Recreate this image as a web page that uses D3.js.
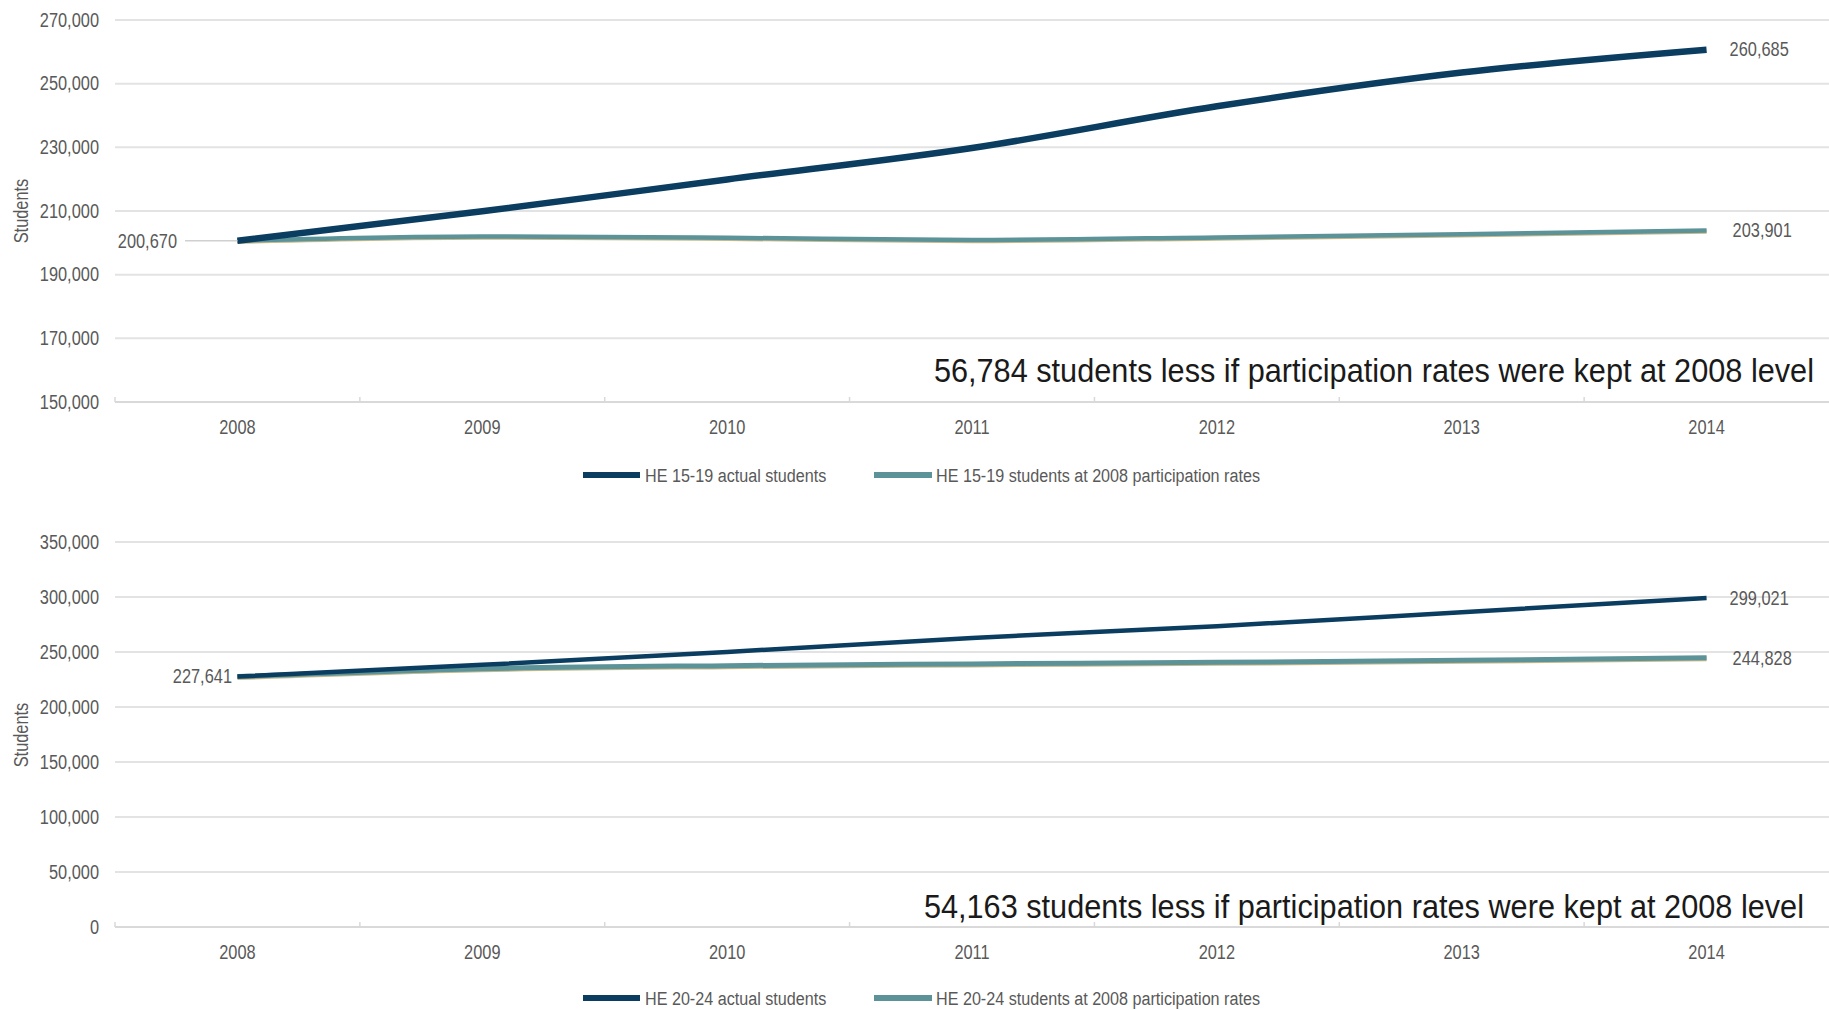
<!DOCTYPE html>
<html lang="en">
<head>
    <meta charset="UTF-8">
    <title>HE students vs 2008 participation rates</title>
    <script src="https://d3js.org/d3.v7.min.js"></script>
    <style>
        body { margin: 0; background: #fff; }
        svg text { font-family: "Liberation Sans", Arial, sans-serif; }
        .tick-label { font-size: 19.5px; fill: #595959; }
        .legend-label { font-size: 19px; fill: #595959; }
        .note { font-size: 33px; fill: #1a1a1a; }
    </style>
</head>
<body>
    <svg id="chart" width="1829" height="1010"></svg>

    <script>
        const years = ["2008", "2009", "2010", "2011", "2012", "2013", "2014"];

        // HE 15-19
        const actual1519 = [200670, 209900, 219900, 229800, 242900, 253500, 260685];
        const base1519 = [200670, 202000, 201600, 200900, 201700, 202700, 203901];
        const ticks1519 = [150000, 170000, 190000, 210000, 230000, 250000, 270000];
        const gap1519 = 56784;

        // HE 20-24
        const actual2024 = [227641, 238300, 250000, 262800, 273400, 286200, 299021];
        const base2024 = [227641, 234800, 237600, 239200, 240600, 242400, 244828];
        const ticks2024 = [0, 50000, 100000, 150000, 200000, 250000, 300000, 350000];
        const gap2024 = 54163;

        const colActual = "#0b3d60";
        const colBase = "#5b9399";
        const colEdge = "#c9b98a";
        const fmt = d3.format(",");

        // horizontal squeeze per text class, to get the narrow look of the original
        const squeeze = { "tick-label": 0.84, "legend-label": 0.85, "note": 0.93 };

        const svg = d3.select("#chart");

        const x = d3.scalePoint().domain(years).range([115, 1829]).padding(0.5);

        function panel(cfg) {
            const g = svg.append("g");
            const y = d3.scaleLinear().domain(cfg.domain).range(cfg.range);

            // gridlines
            g.selectAll(".grid").data(cfg.ticks.slice(1)).enter().append("line")
                .attr("x1", 115).attr("x2", 1829)
                .attr("y1", d => y(d)).attr("y2", d => y(d))
                .attr("stroke", "#e3e3e3").attr("stroke-width", 2);

            // y tick labels
            g.selectAll(".ylab").data(cfg.ticks).enter().append("text")
                .attr("class", "tick-label")
                .attr("x", 99).attr("y", d => y(d)).attr("dy", "0.35em")
                .attr("text-anchor", "end")
                .text(d => fmt(d));

            // x axis line + category ticks
            const y0 = y(cfg.domain[0]);
            g.append("line").attr("x1", 115).attr("x2", 1829).attr("y1", y0).attr("y2", y0)
                .attr("stroke", "#d9d9d9").attr("stroke-width", 2);
            const step = x.step();
            g.selectAll(".xt").data(d3.range(years.length)).enter().append("line")
                .attr("x1", i => 115 + i * step).attr("x2", i => 115 + i * step)
                .attr("y1", y0 - 5).attr("y2", y0)
                .attr("stroke", "#d9d9d9").attr("stroke-width", 1.5);

            g.selectAll(".xlab").data(years).enter().append("text")
                .attr("class", "tick-label")
                .attr("x", d => x(d)).attr("y", y0 + 25).attr("dy", "0.35em")
                .attr("text-anchor", "middle")
                .text(d => d);

            // y axis title
            g.append("text").attr("class", "tick-label")
                .attr("transform", `translate(21,${cfg.titleY}) rotate(-90)`)
                .attr("text-anchor", "middle").attr("dy", "0.35em")
                .text("Students");

            const line = d3.line().x((d, i) => x(years[i])).y(d => y(d)).curve(d3.curveMonotoneX);

            g.append("path").datum(cfg.base).attr("d", line)
                .attr("fill", "none").attr("stroke", colEdge).attr("stroke-width", cfg.baseW)
                .attr("transform", "translate(0,1)");
            g.append("path").datum(cfg.base).attr("d", line)
                .attr("fill", "none").attr("stroke", colBase).attr("stroke-width", cfg.baseW);
            g.append("path").datum(cfg.actual).attr("d", line)
                .attr("fill", "none").attr("stroke", colActual).attr("stroke-width", cfg.actW);

            // data labels
            const first = cfg.actual[0];
            if (cfg.leader) {
                g.append("line").attr("x1", 185).attr("x2", x(years[0]))
                    .attr("y1", y(first)).attr("y2", y(first))
                    .attr("stroke", "#d0d0d0").attr("stroke-width", 1.5);
            }
            g.append("text").attr("class", "tick-label")
                .attr("x", cfg.leftLabelX).attr("y", y(first)).attr("dy", "0.35em")
                .attr("text-anchor", "end").text(fmt(first));

            const last = years.length - 1;
            g.append("text").attr("class", "tick-label")
                .attr("x", x(years[last]) + 23).attr("y", y(cfg.actual[last])).attr("dy", "0.35em")
                .text(fmt(cfg.actual[last]));
            g.append("text").attr("class", "tick-label")
                .attr("x", x(years[last]) + 26).attr("y", y(cfg.base[last])).attr("dy", "0.35em")
                .text(fmt(cfg.base[last]));

            // annotation
            g.append("text").attr("class", "note")
                .attr("x", cfg.noteX).attr("y", cfg.noteY).attr("dy", "0.35em")
                .attr("text-anchor", "end")
                .text(fmt(cfg.gap) + " students less if participation rates were kept at 2008 level");

            // legend
            const lg = g.append("g").attr("transform", `translate(0,${cfg.legendY})`);
            lg.append("line").attr("x1", 583).attr("x2", 640).attr("y1", 0).attr("y2", 0)
                .attr("stroke", colActual).attr("stroke-width", 6);
            lg.append("text").attr("class", "legend-label").attr("x", 645).attr("dy", "0.35em")
                .text(cfg.names[0]);
            lg.append("line").attr("x1", 874).attr("x2", 932).attr("y1", 0).attr("y2", 0)
                .attr("stroke", colBase).attr("stroke-width", 6);
            lg.append("text").attr("class", "legend-label").attr("x", 936).attr("dy", "0.35em")
                .text(cfg.names[1]);
        }

        panel({
            domain: [150000, 270000], range: [402, 20], ticks: ticks1519,
            actual: actual1519, base: base1519, gap: gap1519, actW: 6.5, baseW: 4.5,
            leader: true, leftLabelX: 177, titleY: 211,
            noteX: 1814, noteY: 370, legendY: 475,
            names: ["HE 15-19 actual students", "HE 15-19 students at 2008 participation rates"]
        });

        panel({
            domain: [0, 350000], range: [927, 542], ticks: ticks2024,
            actual: actual2024, base: base2024, gap: gap2024, actW: 4.5, baseW: 5,
            leader: false, leftLabelX: 232, titleY: 735,
            noteX: 1804, noteY: 906, legendY: 998,
            names: ["HE 20-24 actual students", "HE 20-24 students at 2008 participation rates"]
        });

        // squeeze via transform so the anchor point stays put
        svg.selectAll("text").each(function () {
            const k = squeeze[this.getAttribute("class")] || 0.84;
            const tx = +this.getAttribute("x") || 0;
            const prev = this.getAttribute("transform") || "";
            this.setAttribute("x", 0);
            this.setAttribute("transform", `${prev} translate(${tx},0) scale(${k},1)`);
        });
    </script>
</body>
</html>
